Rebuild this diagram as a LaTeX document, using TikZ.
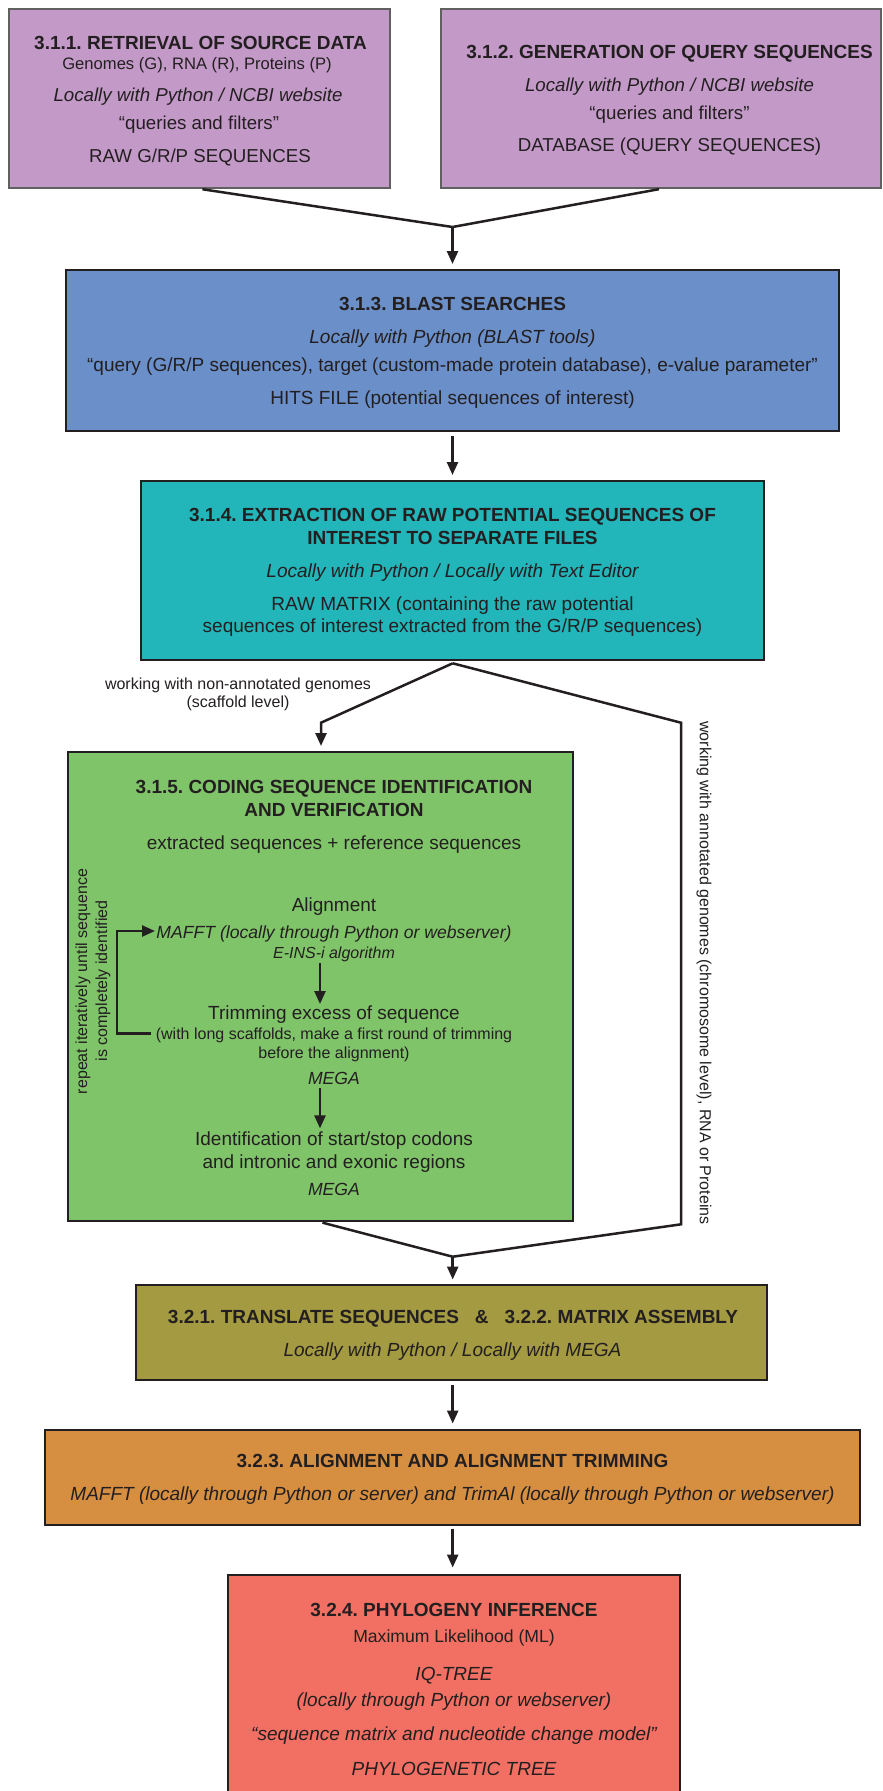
\documentclass[tikz,border=0pt]{standalone}
\usepackage{fontspec}
\setmainfont{Liberation Sans}
\usetikzlibrary{arrows.meta,calc}
\definecolor{ink}{HTML}{231F20}
\definecolor{boxgrey}{HTML}{606060}
\definecolor{cpurple}{HTML}{C399C8}
\definecolor{cblue}{HTML}{6B8FC9}
\definecolor{cteal}{HTML}{22B5B9}
\definecolor{cgreen}{HTML}{80C46A}
\definecolor{colive}{HTML}{A39A41}
\definecolor{corange}{HTML}{D68E41}
\definecolor{cred}{HTML}{F27063}
\newcommand{\fsz}[1]{\fontsize{#1}{#1}\selectfont}
\tikzset{
  box/.style={draw=ink, line width=2pt, inner sep=0pt, rectangle},
  tbox/.style={box, draw=boxgrey, line width=1.6pt},
  txt/.style={anchor=base, inner sep=0pt, text=ink, font=\fsz{19}},
  ttl/.style={txt, font=\fsz{19}\bfseries},
  it/.style={txt, font=\fsz{19}\itshape},
  conn/.style={draw=ink, line width=2.5pt, line join=miter},
  arr/.style={conn, -{Triangle[length=13pt,width=11pt]}},
}
\begin{document}
\frenchspacing
\begin{tikzpicture}[x=1pt,y=-1pt]
\useasboundingbox (0,0) rectangle (883,1791);
% ---------- boxes
\node[tbox, fill=cpurple, minimum width=381pt, minimum height=179pt] (b1) at (199.5,98.5) {};
\node[tbox, fill=cpurple, minimum width=440pt, minimum height=179pt] (b2) at (661,98.5) {};
\node[box, fill=cblue, minimum width=773pt, minimum height=161pt] (b3) at (452.5,350.5) {};
\node[box, fill=cteal, minimum width=623pt, minimum height=179pt] (b4) at (452.5,570.5) {};
\node[box, fill=cgreen, minimum width=505pt, minimum height=469pt] (b5) at (320,986.5) {};
\node[box, fill=colive, minimum width=631pt, minimum height=95pt] (b6) at (451.8,1332.5) {};
\node[box, fill=corange, minimum width=815.5pt, minimum height=95pt] (b7) at (452.25,1477) {};
\node[box, fill=cred, minimum width=451.6pt, minimum height=232pt] (b8) at (454.2,1690.5) {};
% ---------- box 1
\node[ttl] (t11) at (200.5,49.3) {3.1.1. RETRIEVAL OF SOURCE DATA};
\node[txt, font=\fsz{16.6}] (t12) at (197,69) {Genomes (G), RNA (R), Proteins (P)};
\node[it, font=\fsz{18.7}\itshape] (t13) at (198,101.7) {Locally with Python / NCBI website};
\node[txt, font=\fsz{18.7}] (t14) at (199,129.3) {“queries and filters”};
\node[txt, font=\fsz{18.7}] (t15) at (200,162.3) {RAW G/R/P SEQUENCES};
% ---------- box 2
\node[ttl] (t21) at (669.5,58.3) {3.1.2. GENERATION OF QUERY SEQUENCES};
\node[it, font=\fsz{18.7}\itshape] (t22) at (669.5,91.7) {Locally with Python / NCBI website};
\node[txt, font=\fsz{18.7}] (t23) at (669.5,119) {“queries and filters”};
\node[txt, font=\fsz{18.7}] (t24) at (669.5,151.7) {DATABASE (QUERY SEQUENCES)};
% ---------- box 3
\node[ttl] (t31) at (452.5,310) {3.1.3. BLAST SEARCHES};
\node[it] (t32) at (452.5,343) {Locally with Python (BLAST tools)};
\node[txt] (t33) at (452.5,371) {“query (G/R/P sequences), target (custom-made protein database), e-value parameter”};
\node[txt] (t34) at (452.5,404) {HITS FILE (potential sequences of interest)};
% ---------- box 4
\node[ttl] (t41) at (452.5,521.7) {3.1.4. EXTRACTION OF RAW POTENTIAL SEQUENCES OF};
\node[ttl] (t42) at (452.5,544.3) {INTEREST TO SEPARATE FILES};
\node[it] (t43) at (452.5,577.3) {Locally with Python / Locally with Text Editor};
\node[txt] (t44) at (452.5,610) {RAW MATRIX (containing the raw potential};
\node[txt] (t45) at (452.5,632.3) {sequences of interest extracted from the G/R/P sequences)};
% ---------- box 5
\node[ttl] (t51) at (334,793) {3.1.5. CODING SEQUENCE IDENTIFICATION};
\node[ttl] (t52) at (334,816) {AND VERIFICATION};
\node[txt] (t53) at (334,849) {extracted sequences + reference sequences};
\node[txt] (t54) at (334,911) {Alignment};
\node[it, font=\fsz{17.6}\itshape] (t55) at (334,938) {MAFFT (locally through Python or webserver)};
\node[it, font=\fsz{16}\itshape] (t56) at (334,958) {E-INS-i algorithm};
\node[txt] (t57) at (334,1019.5) {Trimming excess of sequence};
\node[txt, font=\fsz{16}] (t58) at (334,1039.5) {(with long scaffolds, make a first round of trimming};
\node[txt, font=\fsz{16}] (t59) at (334,1058.5) {before the alignment)};
\node[it, font=\fsz{17.6}\itshape] (t5a) at (334,1084) {MEGA};
\node[txt] (t5b) at (334,1145.5) {Identification of start/stop codons};
\node[txt] (t5c) at (334,1168.5) {and intronic and exonic regions};
\node[it, font=\fsz{17.6}\itshape] (t5d) at (334,1195) {MEGA};
\node[txt, anchor=center, rotate=90, font=\fsz{16}] (v1) at (83,981.5) {repeat iteratively until sequence};
\node[txt, anchor=center, rotate=90, font=\fsz{16}] (v2) at (103,981) {is completely identified};
% ---------- box 6
\node[ttl] (t61) at (453,1323) {3.2.1. TRANSLATE SEQUENCES\hspace{16pt}\&\hspace{16pt}3.2.2. MATRIX ASSEMBLY};
\node[it] (t62) at (452.5,1356.5) {Locally with Python / Locally with MEGA};
% ---------- box 7
\node[ttl] (t71) at (452.5,1467) {3.2.3. ALIGNMENT AND ALIGNMENT TRIMMING};
\node[it] (t72) at (452.5,1500.7) {MAFFT (locally through Python or server) and TrimAl (locally through Python or webserver)};
% ---------- box 8
\node[ttl] (t81) at (454,1616) {3.2.4. PHYLOGENY INFERENCE};
\node[txt, font=\fsz{17.6}] (t82) at (454,1642) {Maximum Likelihood (ML)};
\node[it] (t83) at (454,1680) {IQ-TREE};
\node[it] (t84) at (454,1706) {(locally through Python or webserver)};
\node[it] (t85) at (454,1740.4) {“sequence matrix and nucleotide change model”};
\node[it] (t86) at (454,1775.4) {PHYLOGENETIC TREE};
% ---------- branch labels
\node[txt, font=\fsz{16}] (l1) at (238,689) {working with non-annotated genomes};
\node[txt, font=\fsz{16}] (l2) at (238,707.7) {(scaffold level)};
\node[txt, anchor=center, rotate=-90, font=\fsz{16}] (v3) at (704,973) {working with annotated genomes (chromosome level), RNA or Proteins};
% ---------- connector points
\coordinate (m1) at (452.5,227);
\coordinate (sp) at (452.7,663.3);
\coordinate (cL) at (321,722.7);
\coordinate (cR) at (681,722.7);
\coordinate (cR2) at (681,1224.3);
\coordinate (m2) at (452.7,1256.7);
\coordinate (ga1) at (320,963);
\coordinate (ga2) at (320,1004);
\coordinate (gb1) at (320,1088);
\coordinate (gb2) at (320,1128.4);
\coordinate (lp1) at (151,1033.5);
\coordinate (lp2) at (117,1033.5);
\coordinate (lp3) at (117,931);
\coordinate (lp4) at (155,931);
% ---------- connectors
\draw[conn, shorten <=3pt] (b1.south) -- (m1);
\draw[conn, shorten <=2pt] (b2.south) -- (m1);
\draw[arr, shorten >=5pt] (m1) -- (m1 |- b3.north);
\draw[arr, shorten <=4pt, shorten >=5pt] (b3.south) -- (b3.south |- b4.north);
\draw[arr, shorten >=5pt] (sp) -- (cL) -- (cL |- b5.north);
\draw[conn] (sp) -- (cR) -- (cR2) -- (m2);
\draw[conn, shorten <=2.5pt] (b5.south) -- (m2);
\draw[arr, shorten >=4.5pt] (m2) -- (m2 |- b6.north);
\draw[arr, shorten <=4pt, shorten >=5pt] (m2 |- b6.south) -- (m2 |- b7.north);
\draw[arr, shorten <=3pt, shorten >=6pt] (m2 |- b7.south) -- (m2 |- b8.north);
\draw[arr] (ga1) -- (ga2);
\draw[arr] (gb1) -- (gb2);
\draw[arr] (lp1) -- (lp2) -- (lp3) -- (lp4);
\end{tikzpicture}
\end{document}
